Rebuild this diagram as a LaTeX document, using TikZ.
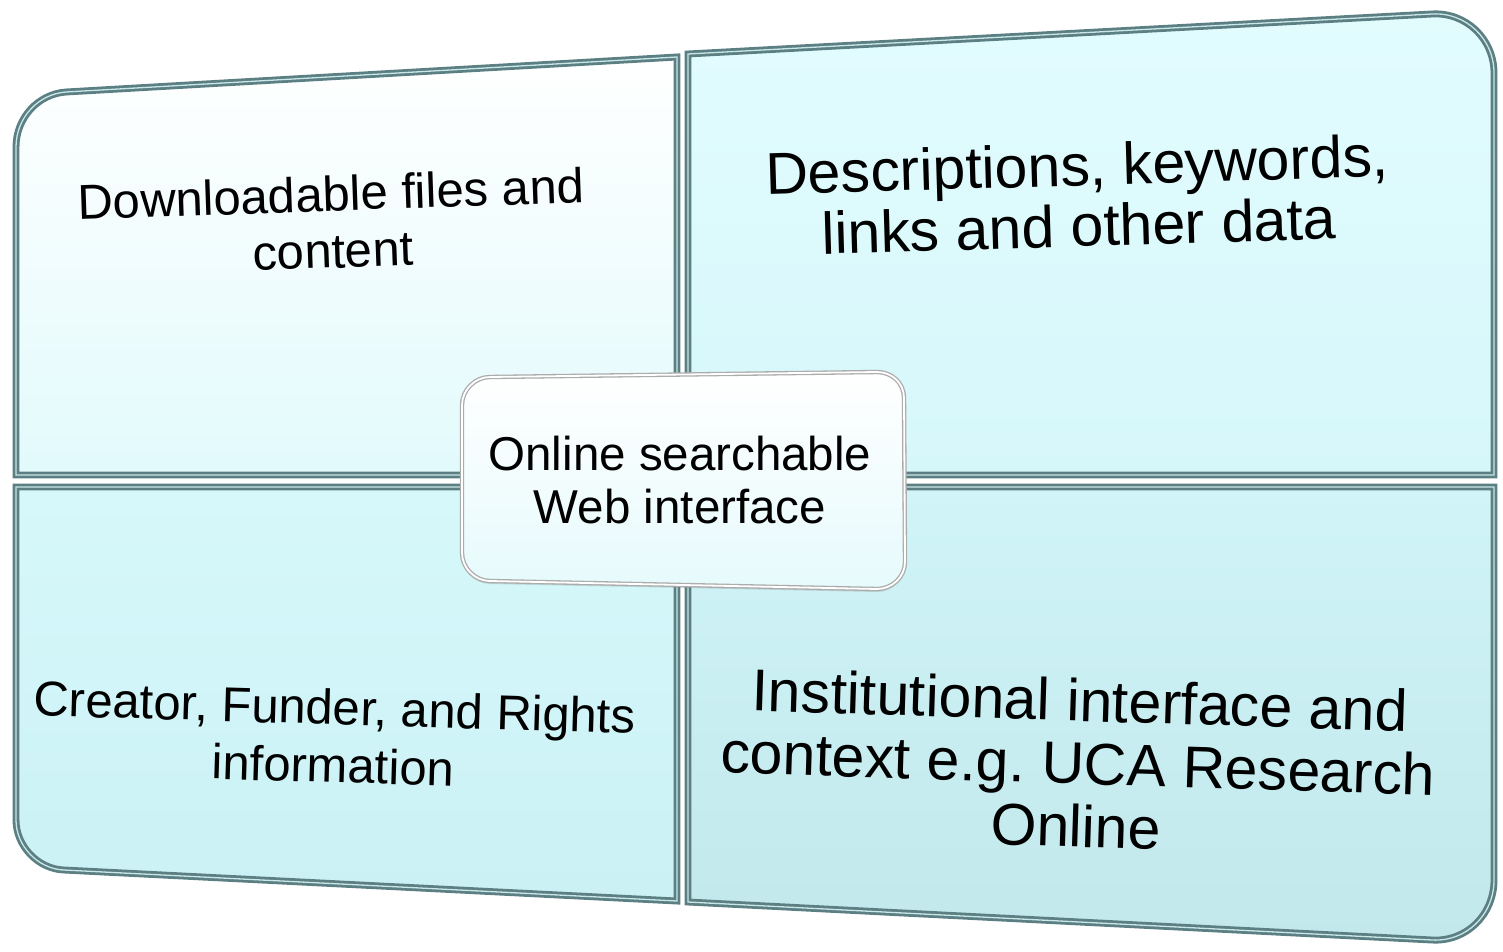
\documentclass[tikz,border=0pt]{standalone}
\usepackage{fontspec}
\setmainfont{Liberation Sans}
\usetikzlibrary{shadows}
\definecolor{edge}{HTML}{5B7F82}
\definecolor{edgelight}{HTML}{C9E6E8}
\definecolor{tltop}{HTML}{FFFFFF}
\definecolor{tlbot}{HTML}{E2FAFC}
\definecolor{trtop}{HTML}{E2FCFE}
\definecolor{trbot}{HTML}{D6F7FA}
\definecolor{bltop}{HTML}{D6F8FB}
\definecolor{blbot}{HTML}{CBF1F4}
\definecolor{brtop}{HTML}{D0F4F7}
\definecolor{brbot}{HTML}{C2E8EC}
\definecolor{hubbot}{HTML}{E6FAFC}
\begin{document}
\begin{tikzpicture}[x=1pt,y=-1pt,
  panel/.style={draw=edge,line width=2.8pt,double=edgelight,double distance=1.3pt},
  hubbox/.style={draw=gray!65,line width=1.3pt,double=white,double distance=1.8pt,
    top color=white,bottom color=hubbot,
    drop shadow={shadow xshift=0pt,shadow yshift=-3pt,opacity=0.25}},
  lbl/.style={align=center,inner sep=0pt,text=black}]
\useasboundingbox (0,0) rectangle (1503,952);

\draw[panel,top color=tltop,bottom color=tlbot] (16,475) -- (16,147) .. controls (16,118) and (38,94) .. (66,92) -- (677,57) -- (677,475) -- cycle;
\draw[panel,top color=trtop,bottom color=trbot] (688,475) -- (688,54) -- (1432,14) .. controls (1466,12) and (1494,39) .. (1494,73) -- (1494,475) -- cycle;
\draw[panel,top color=bltop,bottom color=blbot,drop shadow={shadow xshift=0pt,shadow yshift=-3pt,opacity=0.2}] (16,487) -- (677,487) -- (677,901) -- (64,870) .. controls (38,869) and (16,846) .. (16,820) -- cycle;
\draw[panel,top color=brtop,bottom color=brbot,drop shadow={shadow xshift=0pt,shadow yshift=-3pt,opacity=0.2}] (688,487) -- (1494,487) -- (1494,880) .. controls (1494,915) and (1466,942) .. (1432,940) -- (688,902) -- cycle;

\draw[hubbox] (462,405) .. controls (462,390) and (475,377) .. (490,377) -- (877,372) .. controls (892,372) and (904,383) .. (904,398) -- (905,562) .. controls (905,577) and (892,589) .. (877,589) -- (490,581) .. controls (475,581) and (462,568) .. (462,553) -- cycle;

\node[lbl,rotate=2,font=\fontsize{49}{57}\selectfont] (files) at (332,222) {Downloadable files and\\content};
\node[lbl,rotate=1.7,font=\fontsize{59}{61}\selectfont] (meta) at (1078,195) {Descriptions, keywords,\\links and other data};
\node[lbl,rotate=-1.7,font=\fontsize{49}{58}\selectfont] (rights) at (334,736) {Creator, Funder, and Rights\\information};
\node[lbl,rotate=-1.8,font=\fontsize{59}{63}\selectfont] (inst) at (1078,763) {Institutional interface and\\context e.g.\ UCA Research\\Online};
\node[lbl,font=\fontsize{47.5}{53}\selectfont] (hub) at (680,480) {Online searchable\\Web interface};
\end{tikzpicture}
\end{document}
